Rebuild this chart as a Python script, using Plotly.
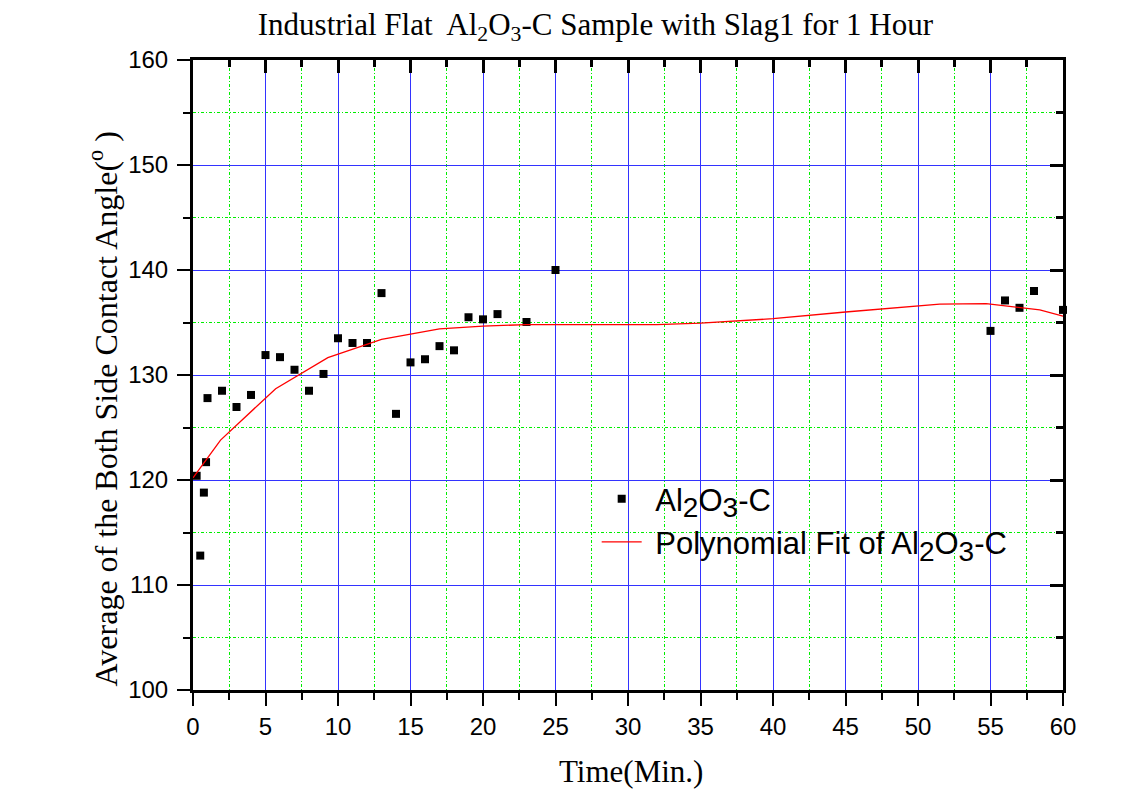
import plotly.graph_objects as go

# Data
time_min = [0.25, 0.5, 0.75, 0.9, 1, 2, 3, 4, 5, 6, 7, 8, 9, 10, 11, 12, 13, 14, 15, 16,
            17, 18, 19, 20, 21, 23, 25, 55, 56, 57, 58, 60]
angle = [120.4, 112.8, 118.8, 121.7, 127.8, 128.5, 126.95, 128.1, 131.9, 131.7, 130.5, 128.5,
         130.1, 133.5, 133.05, 133.05, 137.8, 126.3, 131.2, 131.5, 132.75, 132.35, 135.5, 135.3,
         135.8, 135.05, 140.0, 134.2, 137.1, 136.4, 138.0, 136.2]

fit_x = [0, 1.9, 5.7, 9.3, 13, 15, 17, 20, 23, 25, 30, 32, 35, 40, 45, 50, 51.5, 54.7, 58.4, 60]
fit_y = [120.2, 123.8, 128.7, 131.65, 133.4, 133.9, 134.4, 134.65, 134.8, 134.8, 134.8, 134.8,
         134.95, 135.36, 136.0, 136.6, 136.75, 136.8, 136.2, 135.6]

x_ticks = [0, 5, 10, 15, 20, 25, 30, 35, 40, 45, 50, 55, 60]
y_ticks = [100, 110, 120, 130, 140, 150, 160]

SUB = "<sub><span style='font-size:28px'>{}</span></sub>"
al2o3 = "Al" + SUB.format("2") + "O" + SUB.format("3") + "-C"

fig = go.Figure()
fig.add_trace(go.Scatter(
    x=time_min, y=angle, mode="markers",
    marker=dict(symbol="square", size=8, color="black"),
    name="\u00a0" + al2o3, cliponaxis=False))
fig.add_trace(go.Scatter(
    x=fit_x, y=fit_y, mode="lines",
    line=dict(color="red", width=1.3),
    name="\u00a0Polynomial Fit of " + al2o3))
# invisible companion trace so the mirrored (inside-tick) top/right axes are drawn
fig.add_trace(go.Scatter(
    x=fit_x, y=fit_y, xaxis="x2", yaxis="y2", mode="lines",
    line=dict(width=0), opacity=0, showlegend=False, hoverinfo="skip"))

axis_font = dict(family="Liberation Sans, Arial", size=24, color="black")
serif = "Liberation Serif, Times New Roman"
minor_grid = dict(showgrid=True, gridcolor="#00ee00", griddash="3px,2px,1px,2px", gridwidth=1)

fig.update_layout(
    width=1145, height=789,
    margin=dict(l=185, r=90, t=52, b=107),
    paper_bgcolor="white", plot_bgcolor="white",
    title=dict(
        text="Industrial Flat  Al<sub>2</sub>O<sub>3</sub>-C Sample with Slag1 for 1 Hour",
        x=0.513, xanchor="center", xref="container",
        y=0.980, yanchor="middle", yref="container",
        font=dict(family=serif, size=31, color="black")),
    xaxis=dict(
        range=[0, 60], tickvals=x_ticks, ticktext=[str(v) for v in x_ticks],
        ticks="outside", ticklen=13, tickwidth=2, tickcolor="black",
        showline=True, linecolor="black", linewidth=3, mirror=True,
        showgrid=True, gridcolor="#3333ff", gridwidth=1,
        zeroline=False, tickfont=axis_font, ticklabelstandoff=0,
        minor=dict(dtick=2.5, tick0=0, ticks="outside", ticklen=7, tickwidth=2,
                   tickcolor="black", **minor_grid)),
    yaxis=dict(
        range=[100, 160], tickvals=y_ticks, ticktext=[str(v) for v in y_ticks],
        ticks="outside", ticklen=13, tickwidth=2, tickcolor="black",
        showline=True, linecolor="black", linewidth=3, mirror=True,
        showgrid=True, gridcolor="#3333ff", gridwidth=1,
        zeroline=False, tickfont=axis_font, ticklabelstandoff=4,
        minor=dict(dtick=5, tick0=100, ticks="outside", ticklen=7, tickwidth=2,
                   tickcolor="black", **minor_grid)),
    xaxis2=dict(
        overlaying="x", side="top", range=[0, 60], tickvals=x_ticks,
        showticklabels=False, ticks="inside", ticklen=13, tickwidth=3, tickcolor="black",
        showgrid=False, zeroline=False, showline=False,
        minor=dict(dtick=2.5, tick0=0, ticks="inside", ticklen=7, tickwidth=3,
                   tickcolor="black", showgrid=False)),
    yaxis2=dict(
        overlaying="y", side="right", range=[100, 160], tickvals=y_ticks,
        showticklabels=False, ticks="inside", ticklen=13, tickwidth=3, tickcolor="black",
        showgrid=False, zeroline=False, showline=False,
        minor=dict(dtick=5, tick0=100, ticks="inside", ticklen=7, tickwidth=3,
                   tickcolor="black", showgrid=False)),
    legend=dict(
        x=0.464, y=0.346, xanchor="left", yanchor="top",
        bgcolor="rgba(0,0,0,0)", borderwidth=0,
        font=dict(family="Liberation Sans, Arial", size=31, color="black"),
        itemwidth=40),
    showlegend=True,
    annotations=[
        dict(text="Time(Min.)", xref="paper", yref="paper", x=0.503, y=-0.130,
             xanchor="center", yanchor="middle", showarrow=False,
             font=dict(family=serif, size=31, color="black")),
        dict(text="Average of the Both Side Contact Angle(<sup>o</sup> )",
             xref="paper", yref="paper", x=-0.103, y=0.446, textangle=-90,
             xanchor="center", yanchor="middle", showarrow=False,
             font=dict(family=serif, size=32, color="black")),
    ],
)

fig.write_html("out.html")
